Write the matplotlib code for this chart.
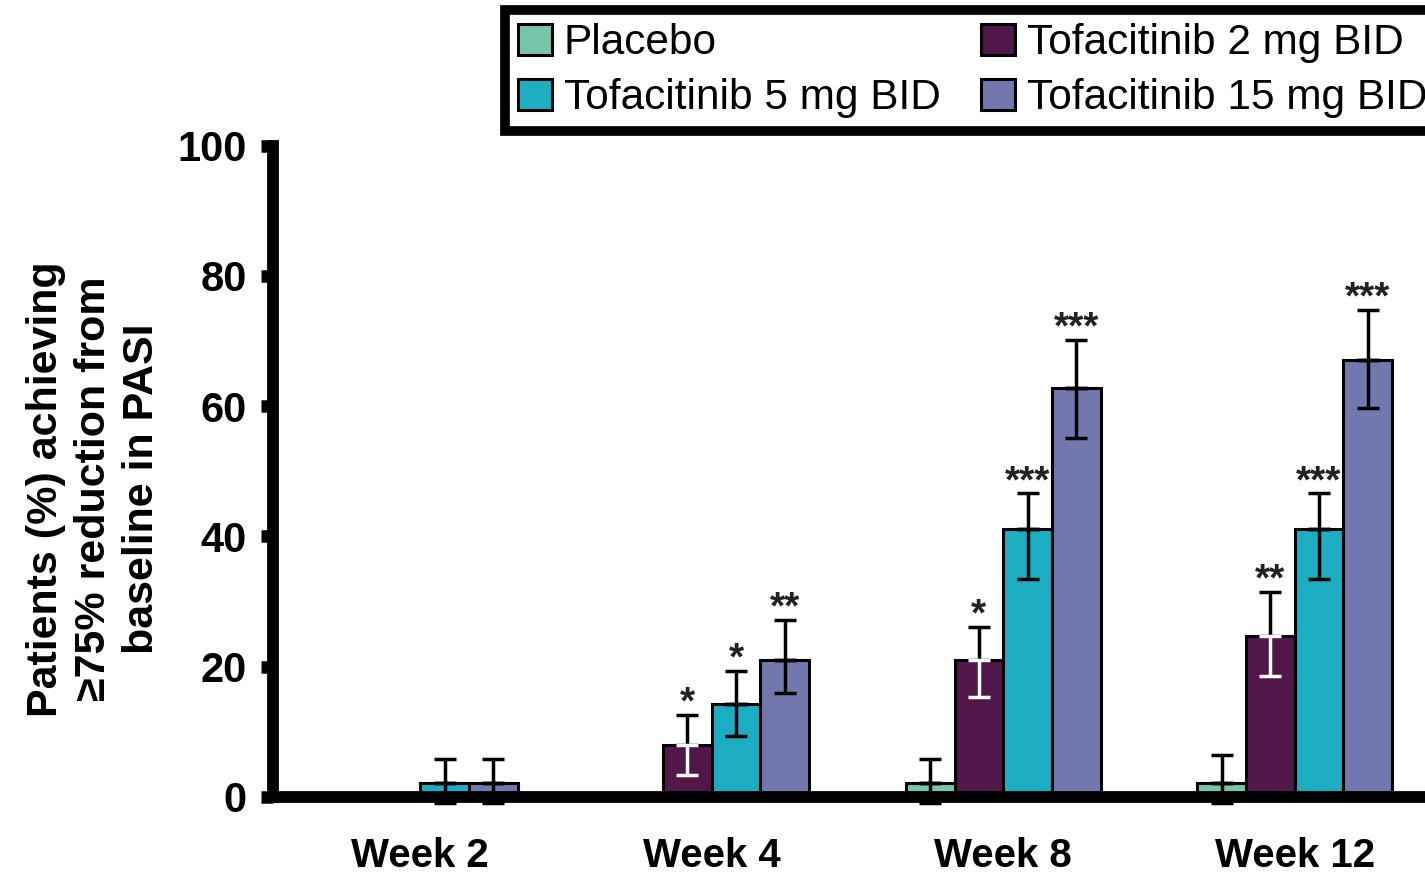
import matplotlib.pyplot as plt
import numpy as np

plt.rcParams['font.family'] = ['Liberation Sans', 'DejaVu Sans']

weeks = ["Week 2", "Week 4", "Week 8", "Week 12"]
groups = ["Placebo", "Tofacitinib 2 mg BID", "Tofacitinib 5 mg BID", "Tofacitinib 15 mg BID"]
colors = ["#76C7AA", "#52174A", "#1CADC2", "#7277AE"]

# percent of patients, per group (rows) and week (columns); 0 = no bar
values = [
    [0, 0, 2.1, 2.1],
    [0, 8.0, 21.0, 24.7],
    [2.1, 14.2, 41.2, 41.2],
    [2.1, 21.0, 62.8, 67.1],
]
err_hi = [
    [0, 0, 3.8, 4.3],
    [0, 4.6, 5.1, 6.8],
    [3.8, 5.2, 5.4, 5.4],
    [3.8, 6.2, 7.3, 7.7],
]
err_lo = [
    [0, 0, 3, 3],
    [0, 4.7, 5.6, 6.2],
    [3, 4.8, 7.7, 7.7],
    [3, 5.0, 7.7, 7.4],
]
stars = [
    ["", "", "", ""],
    ["", "*", "*", "**"],
    ["", "*", "***", "***"],
    ["", "**", "***", "***"],
]

fig = plt.figure(figsize=(14.25, 8.73), dpi=100)
ax = fig.add_axes([0.1916, 0.0871, 0.8084, 0.7462])

x = np.arange(len(weeks))
w = 0.167
handles = []
for i, g in enumerate(groups):
    pos = x + (i - 1.5) * w
    vals = np.array(values[i])
    keep = vals > 0
    b = ax.bar(pos[keep], vals[keep], w, color=colors[i], edgecolor="black",
               linewidth=2.2, label=g, zorder=2)
    handles.append(b)
    hi = np.array(err_hi[i])
    lo = np.array(err_lo[i])
    show = hi > 0
    # upper half of the error bar in black
    ax.errorbar(pos[show], vals[show], yerr=[np.zeros(show.sum()), hi[show]],
                fmt="none", ecolor="black", elinewidth=2.5, capsize=8,
                capthick=2.5, zorder=3, clip_on=False)
    # lower half: white inside the dark purple bars
    low_col = "white" if i == 1 else "black"
    ax.errorbar(pos[show], vals[show], yerr=[lo[show], np.zeros(show.sum())],
                fmt="none", ecolor=low_col, elinewidth=2.5, capsize=8,
                capthick=2.5, zorder=3, clip_on=False)
    for j in range(len(weeks)):
        if stars[i][j]:
            ax.annotate(stars[i][j], (pos[j], vals[j] + hi[j]), xytext=(0, 1),
                        textcoords="offset points", ha="center", va="baseline",
                        fontsize=28, fontweight="bold", color="#222222")

ax.set_xlim(-0.505, 3.447)
ax.set_ylim(0, 100)
ax.set_yticks([0, 20, 40, 60, 80, 100])
ax.set_xticks(x)
ax.set_xticklabels(weeks, fontsize=29, fontweight="bold")
for lab in ax.get_yticklabels():
    lab.set_fontsize(30)
    lab.set_fontweight("bold")
ax.tick_params(axis="x", length=0, pad=29)
ax.tick_params(axis="y", length=9, width=9, pad=10)

for s in ["top", "right"]:
    ax.spines[s].set_visible(False)
ax.spines["left"].set_linewidth(8.5)
ax.spines["bottom"].set_linewidth(8.5)
ax.spines["left"].set_bounds(0, 100)

ax.set_ylabel("Patients (%) achieving\n≥75% reduction from\nbaseline in PASI",
              fontsize=31, fontweight="bold", linespacing=1.26)
ax.yaxis.set_label_coords(-0.096, 0.473)

leg = fig.legend([handles[0], handles[2], handles[1], handles[3]],
                 [groups[0], groups[2], groups[1], groups[3]],
                 ncol=2, loc="upper left", bbox_to_anchor=(0.3544, 0.988),
                 fontsize=30.5, frameon=True, fancybox=False, framealpha=1,
                 handlelength=0.8, handleheight=0.77, handletextpad=0.29,
                 columnspacing=0.95, labelspacing=0.36, borderpad=0.3,
                 borderaxespad=0)
leg.get_frame().set_edgecolor("black")
leg.get_frame().set_linewidth(7)

fig.savefig("out.png", dpi=100)
